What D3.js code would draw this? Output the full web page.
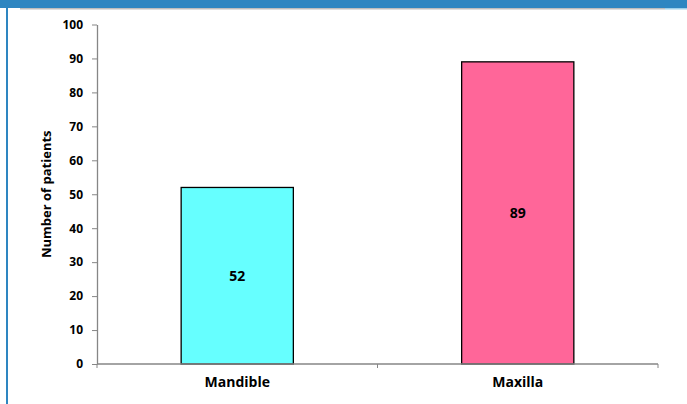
<!DOCTYPE html>
<html>
<head>
<meta charset="utf-8">
<script src="https://cdn.jsdelivr.net/npm/d3@7"></script>
<style>
  body { margin: 0; background: #fff; }
  svg text { font-family: "Open Sans", "Liberation Sans", sans-serif; font-weight: bold; fill: #000; }
</style>
</head>
<body>
<div id="chart"></div>
<script>
// chart data
var categories = ["Mandible", "Maxilla"];
var patients = [52, 89];
var barColors = ["#66FFFF", "#FF6699"];
var yTicks = [0, 10, 20, 30, 40, 50, 60, 70, 80, 90, 100];

var W = 687, H = 404;
var svg = d3.select("#chart").append("svg").attr("width", W).attr("height", H);

// frame: blue band on top, blue line at left
svg.append("rect").attr("x", 0).attr("y", 0).attr("width", W).attr("height", 8).attr("fill", "#2E86C1");
svg.append("rect").attr("x", 20).attr("y", 8).attr("width", 645).attr("height", 1.5).attr("fill", "#BDBDBD");
svg.append("rect").attr("x", 665).attr("y", 8).attr("width", 22).attr("height", 1.5).attr("fill", "#9CCFEA");
svg.append("rect").attr("x", 6).attr("y", 0).attr("width", 2).attr("height", H).attr("fill", "#2E86C1");

// plot area (names avoid window.top)
var pLeft = 97, pRight = 658, pTop = 24.5, pBottom = 364;

var x = d3.scaleBand().domain(categories).range([pLeft, pRight]).paddingInner(0.6).paddingOuter(0.3);
var y = d3.scaleLinear().domain([0, 100]).range([pBottom, pTop]);

// y axis
var yAxis = svg.append("g")
  .attr("transform", "translate(" + pLeft + ",0)")
  .call(d3.axisLeft(y).tickValues(yTicks).tickSize(5).tickSizeOuter(0).tickPadding(9));
yAxis.select(".domain").attr("stroke", "#868686").attr("stroke-width", 1.3);
yAxis.selectAll(".tick line").attr("stroke", "#868686");
yAxis.selectAll(".tick text").style("font-size", "12px");

// bars
svg.selectAll(".bar").data(categories).enter().append("rect")
  .attr("class", "bar")
  .attr("x", function(d) { return x(d); })
  .attr("y", function(d, i) { return y(patients[i]); })
  .attr("width", x.bandwidth())
  .attr("height", function(d, i) { return pBottom - y(patients[i]); })
  .attr("fill", function(d, i) { return barColors[i]; })
  .attr("stroke", "#000")
  .attr("stroke-width", 1.3);

// x axis
var step = (pRight - pLeft) / categories.length;
var xAxis = svg.append("g").attr("transform", "translate(0," + pBottom + ")");
xAxis.append("line").attr("x1", pLeft).attr("x2", pRight).attr("stroke", "#868686").attr("stroke-width", 1.3);
xAxis.selectAll(".xt").data(d3.range(categories.length + 1)).enter().append("line")
  .attr("x1", function(d) { return pLeft + d * step; })
  .attr("x2", function(d) { return pLeft + d * step; })
  .attr("y1", 0).attr("y2", 4)
  .attr("stroke", "#868686");
xAxis.selectAll(".xl").data(categories).enter().append("text")
  .attr("x", function(d) { return x(d) + x.bandwidth() / 2; })
  .attr("y", 23)
  .attr("text-anchor", "middle")
  .style("font-size", "14px")
  .text(function(d) { return d; });

// value labels in the middle of bars
svg.selectAll(".val").data(categories).enter().append("text")
  .attr("x", function(d) { return x(d) + x.bandwidth() / 2; })
  .attr("y", function(d, i) { return (y(patients[i]) + pBottom) / 2 + 5; })
  .attr("text-anchor", "middle")
  .style("font-size", "14px")
  .text(function(d, i) { return patients[i]; });

// y title
svg.append("text")
  .attr("transform", "translate(51," + ((pTop + pBottom) / 2) + ") rotate(-90)")
  .attr("text-anchor", "middle")
  .style("font-size", "13px")
  .text("Number of patients");
</script>
</body>
</html>
